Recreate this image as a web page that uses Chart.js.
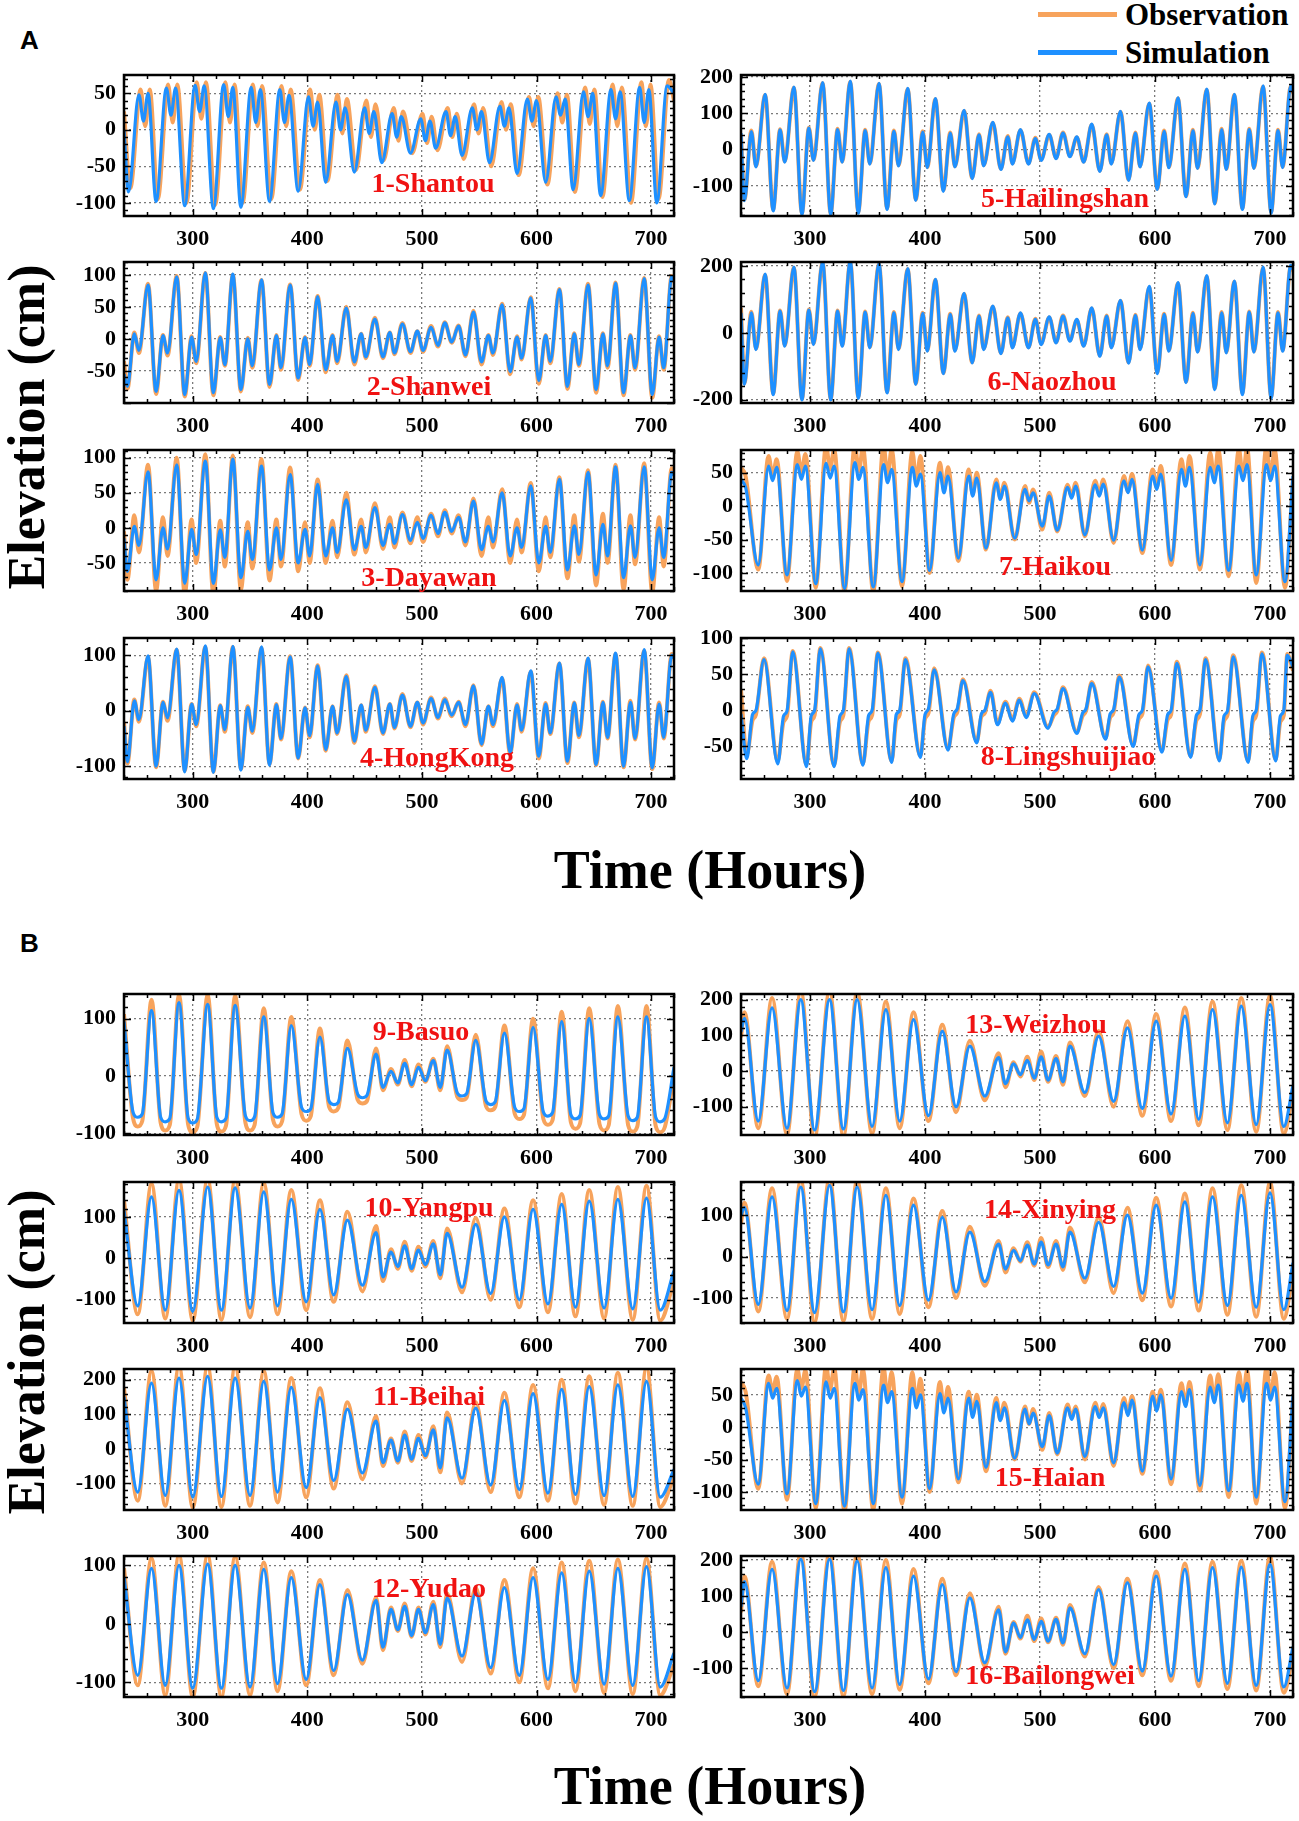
<!DOCTYPE html>
<html>
<head>
<meta charset="utf-8">
<script src="https://cdn.jsdelivr.net/npm/chart.js@4.4.1/dist/chart.umd.min.js"></script>
<style>
  body { margin: 0; width: 1299px; height: 1821px; background: #fff; position: relative; overflow: hidden; }
  canvas { position: absolute; }
  .txt { position: absolute; white-space: nowrap; font-family: 'Liberation Serif', serif; font-weight: bold; color: #000; }
  .st { position: absolute; transform: translate(-50%, -50%); white-space: nowrap; font-family: 'Liberation Serif', serif; font-weight: bold; font-size: 28px; color: #f01212; z-index: 5; }
  .panelTag { position: absolute; font-family: 'Liberation Sans', Arial, sans-serif; font-weight: bold; font-size: 26px; line-height: 26px; }
</style>
</head>
<body>

<div class="panelTag" style="left:20px;top:27px">A</div>
<div class="panelTag" style="left:20px;top:930px">B</div>

<div style="position:absolute;left:1038px;top:12px;width:79px;height:5px;background:#F7A35C"></div>
<div class="txt" style="left:1125px;top:-1px;font-size:31px;line-height:31px">Observation</div>
<div style="position:absolute;left:1038px;top:50px;width:79px;height:5px;background:#1E90FF"></div>
<div class="txt" style="left:1125px;top:37px;font-size:31px;line-height:31px">Simulation</div>

<div class="txt" style="left:27px;top:427px;font-size:52px;line-height:52px;transform:translate(-50%,-50%) rotate(-90deg)">Elevation (cm)</div>
<div class="txt" style="left:27px;top:1352px;font-size:52px;line-height:52px;transform:translate(-50%,-50%) rotate(-90deg)">Elevation (cm)</div>
<div class="txt" style="left:710px;top:870px;font-size:54px;line-height:54px;transform:translate(-50%,-50%)">Time (Hours)</div>
<div class="txt" style="left:710px;top:1786px;font-size:54px;line-height:54px;transform:translate(-50%,-50%)">Time (Hours)</div>

<script>
// hours of the turning points
const hoursShantou = [240,
  244,253,257,261, 268,277,281,285, 293,302,306,310, 318,327,331,335, 342,351,355,359,
  367,376,380,384, 392,401,405,409, 416,425,429,433, 441,450,454,458, 465,474,478,482,
  490,499,503,507, 512,521,525,529, 535,544,548,552, 559,568,572,576, 583,592,596,600,
  608,617,621,625, 632,641,645,649, 656,665,669,673, 681,690,694,698, 705,714,720];
// observed Shantou turning points come a little later than the simulated ones
const hoursShantouObs = [240,
  245.5,254.5,258.5,262.5, 269.5,278.5,282.5,286.5, 294.5,303.5,307.5,311.5, 319.5,328.5,332.5,336.5,
  343.5,352.5,356.5,360.5, 368.5,377.5,381.5,385.5, 393.5,402.5,406.5,410.5, 417.5,426.5,430.5,434.5,
  442.5,451.5,455.5,459.5, 466.5,475.5,479.5,483.5, 491.5,500.5,504.5,508.5, 513.5,522.5,526.5,530.5,
  536.5,545.5,549.5,553.5, 560.5,569.5,573.5,577.5, 584.5,593.5,597.5,601.5, 609.5,618.5,622.5,626.5,
  633.5,642.5,646.5,650.5, 657.5,666.5,670.5,674.5, 682.5,691.5,695.5,699.5, 706.5,715.5,720];
const hoursHK = [240,
  243,249,253,261, 268,274,278,286, 293,299,303,311, 318,324,328,335, 342,348,352,360,
  367,373,377,385, 392,398,402,409, 416,422,426,434, 441,447,451,459, 466,472,476,483,
  490,496,501,508, 514,520,526,532, 538,545,
  552,558,562,570, 577,583,587,595, 602,608,612,620, 627,633,637,645, 652,658,662,669,
  676,682,686,694, 701,707,711,718, 720];
const hoursHaikou = [240, 244,
  255,264,267.5,271, 280,289,292.5,296, 305,314,317.5,321, 330,339,342.5,346,
  355,364,367.5,371, 380,389,392.5,396, 404,413,416.5,420, 429,438,441.5,445,
  453,462,465.5,469, 478,487,490.5,494, 502,508,
  515,524,527.5,531, 539,548,551.5,555, 564,573,576.5,580, 589,598,601.5,605,
  614,623,626.5,630, 639,648,651.5,655, 664,673,676.5,680, 688,697,700.5,704, 713,720];
const hoursLingshui = [240,
  245,250,253,260, 272,277,280,285, 297,301,304,309, 321,326,329,334, 346,351,354,359,
  371,375,378,383, 396,400,403,408, 420,425,428,433, 445,449,452,457,
  463,470,476,482,488,495,
  507,512,515,520, 532,537,540,545, 557,561,564,569, 581,586,589,594, 606,611,614,619,
  631,636,639,644, 656,660,663,668, 681,685,688,693, 705,709,712,715, 720];
const hoursBasuo = [240,
  248,252,256,264, 272,276,280,288, 296,300,304,313, 321,325,329,337, 346,350,354,362,
  370,374,378,386, 395,399,403,411, 419,423,427,435, 444,448,452,460,
  466,473,479,485,491,497,503,510,516,522,
  531,535,539,547, 556,560,564,572, 581,585,589,597, 606,610,614,622, 630,634,638,646,
  655,659,663,671, 680,684,688,696, 704,708,712,720];
const hoursWest = [240,252,264,276,288,300,313,325,337,350,362,374,386,399,411,423,435,448,
  460,466,473,479,485,491,497,503,510,516,522,535,547,560,572,585,597,610,622,634,646,659,671,684,696,708,720];
const hoursEast = [240,243,255,267,280,292,304,317,329,341,354,366,378,390,403,415,427,439,
  452,464,470,477,483,489,495,501,507,514,520,526,539,551,564,576,589,601,614,626,638,650,663,675,688,700,712,720];

// elevations (cm)
const obsShantou = [25, -80,55,5,55, -95,62,10,62, -100,65,15,65, -103,65,10,62, -100,62,5,60,
  -95,60,5,55, -82,55,0,48, -70,48,-5,42, -55,40,-10,35, -42,30,-15,25, -32,22,-18,18,
  -28,30,-10,22, -40,35,-5,30, -50,38,0,35, -62,45,5,45, -75,50,10,48, -85,58,8,55,
  -92,62,5,58, -100,65,5,62, -95,68,40];
const simShantou = [0, -85,48,12,50, -98,57,20,57, -104,61,25,60, -108,62,18,58, -106,58,10,55,
  -98,55,10,47, -84,45,5,38, -72,38,0,30, -58,30,-5,25, -45,22,-10,18, -32,15,-15,12,
  -25,25,-8,18, -35,30,0,25, -45,32,5,30, -60,42,12,40, -72,45,20,42, -82,52,18,50,
  -90,55,15,52, -97,58,10,55, -100,60,50];

const obsShanwei = [-35, -78,10,-22,86, -86,6,-26,98, -90,4,-38,103, -88,3,-42,100, -82,2,-45,92,
  -75,6,-48,85, -64,3,-42,67, -52,6,-38,50, -40,8,-30,33, -30,10,-24,25, -22,12,-20,20,
  -12,26,-6,21, -27,44, -40,6,-25,55, -55,4,-32,65, -70,6,-38,78, -78,9,-42,86,
  -84,9,-45,88, -88,6,-48,95, -92,4,-48,98, 90];
const simShanwei = [-55, -74,8,-18,84, -82,5,-22,97, -87,3,-35,103, -84,2,-40,101, -79,0,-42,92,
  -71,5,-45,84, -61,2,-40,66, -48,5,-35,48, -36,8,-28,31, -28,10,-22,23, -20,12,-18,18,
  -10,25,-5,20, -25,42, -36,5,-22,53, -51,3,-30,64, -65,5,-35,77, -74,8,-40,84,
  -79,8,-42,87, -84,5,-45,94, -87,3,-45,97, 92];

const obsDayawan = [-5, -74,18,-35,90, -90,15,-40,100, -95,12,-50,105, -95,10,-55,103, -88,8,-58,98,
  -75,12,-55,86, -62,8,-50,69, -50,10,-42,50, -38,12,-35,35, -30,15,-28,22, -22,15,-20,20,
  -12,25,-8,18, -25,42, -40,15,-28,55, -50,12,-35,64, -62,15,-42,72, -72,18,-48,82,
  -82,20,-50,90, -88,18,-52,92, -92,15,-55,85, 80];
const simDayawan = [-15, -62,2,-25,80, -74,0,-30,90, -79,-2,-38,95, -79,-3,-42,98, -71,-5,-45,88,
  -60,0,-45,76, -50,-2,-40,62, -40,0,-35,40, -31,2,-28,29, -25,5,-22,19, -18,8,-15,18,
  -8,22,-5,15, -20,38, -31,2,-20,50, -40,0,-28,60, -50,2,-35,69, -60,3,-38,79,
  -67,5,-40,87, -71,3,-42,87, -74,0,-42,79, 75];

const obsHongKong = [-20, -95,20,-20,97, -102,16,-18,110, -108,12,-28,115, -110,10,-38,115, -105,8,-40,113,
  -96,12,-52,98, -86,6,-48,82, -72,8,-42,64, -58,10,-38,44, -42,12,-32,30, -30,15,-25,24,
  -14,22,-10,16, -28,46, -62,8,-28,58, -78,12,-38,70, -86,14,-42,85, -94,15,-48,93,
  -98,16,-50,102, -102,18,-52,108, -105,15,-50,102, 98];
const simHongKong = [-28, -92,18,-16,99, -100,15,-13,111, -110,12,-25,117, -111,9,-34,116, -107,6,-37,115,
  -98,11,-50,97, -85,5,-45,81, -70,8,-40,62, -55,10,-35,42, -40,12,-30,28, -28,15,-22,22,
  -12,20,-8,15, -25,45, -60,8,-25,60, -76,10,-35,72, -82,12,-40,86, -91,14,-45,95,
  -97,15,-48,104, -100,15,-50,110, -103,12,-48,100, 95];

const obsHailingshan = [40, -138,52,-45,150, -165,56,-32,170, -176,60,-28,182, -177,57,-33,186, -172,54,-38,180,
  -162,52,-43,166, -138,50,-48,138, -112,47,-46,106, -78,42,-43,73, -53,37,-38,53, -38,32,-28,40,
  -23,47,-18,33, -33,68, -58,42,-38,103, -83,47,-46,126, -108,52,-48,140, -128,54,-50,164,
  -148,57,-53,150, -162,57,-50,173, -172,54,-48,173, 155];
const simHailingshan = [45, -141,49,-48,152, -169,54,-35,172, -179,59,-30,184, -179,55,-35,188, -175,52,-40,182,
  -165,50,-45,168, -140,48,-50,140, -115,45,-48,108, -80,40,-45,75, -55,35,-40,55, -40,30,-30,42,
  -25,45,-20,35, -35,70, -60,40,-40,105, -85,45,-48,128, -110,50,-50,142, -130,52,-52,166,
  -150,55,-55,152, -165,55,-52,175, -175,52,-50,175, 160];

const obsNaozhou = [75, -150,63,-47,173, -182,67,-37,195, -198,70,-32,210, -199,67,-37,212, -193,64,-42,205,
  -177,62,-47,190, -152,60,-52,158, -120,57,-52,116, -88,52,-47,78, -60,47,-42,58, -43,42,-32,46,
  -28,52,-22,38, -38,73, -68,52,-42,95, -88,54,-47,136, -118,57,-52,148, -146,60,-55,168,
  -166,62,-57,153, -180,64,-55,193, -192,62,-52,198, 185];
const simNaozhou = [60, -154,60,-50,176, -185,65,-40,197, -201,68,-35,213, -201,65,-40,215, -196,62,-45,207,
  -180,60,-50,192, -154,58,-55,160, -122,55,-55,118, -90,50,-50,80, -62,45,-45,60, -45,40,-35,48,
  -30,50,-25,40, -40,75, -70,50,-45,97, -91,52,-50,139, -122,55,-55,150, -149,58,-58,171,
  -170,60,-60,155, -185,62,-58,197, -196,60,-55,202, 190];

const obsHaikou = [58, 45, -95,75,45,70, -112,82,50,78, -122,90,55,85, -128,92,52,88, -128,90,45,85,
  -120,82,38,75, -100,65,25,58, -82,55,18,50, -65,40,12,35, -50,30,5,25, -35,20,
  -38,32,15,35, -45,38,18,40, -55,45,22,48, -70,55,28,60, -88,70,35,75, -95,80,40,85,
  -105,85,42,88, -115,90,40,85, -122,40];
const simHaikou = [40, 28, -88,60,38,58, -103,62,40,60, -116,64,42,60, -123,65,40,58, -121,62,35,55,
  -113,58,30,48, -96,50,20,45, -78,45,15,42, -63,35,10,30, -48,25,8,20, -30,15,
  -36,28,12,30, -43,32,15,33, -51,38,20,40, -66,45,25,48, -81,55,30,58, -88,58,35,60,
  -96,60,38,62, -103,62,38,60, -113,45];

const obsHaian = [70, 55, -95,80,55,78, -112,90,60,88, -125,95,58,92, -130,95,52,90, -128,92,45,85,
  -118,85,38,75, -100,70,28,62, -85,55,20,50, -68,45,12,38, -50,32,5,28, -35,22,
  -42,35,15,32, -50,38,18,36, -60,45,22,48, -72,55,28,58, -88,68,35,70, -98,80,42,82,
  -108,85,45,88, -118,92,45,85, -125,45];
const simHaian = [45, 30, -88,68,45,60, -103,72,48,62, -118,70,45,60, -122,68,42,58, -118,65,38,55,
  -108,60,30,50, -95,52,22,45, -80,45,15,40, -62,38,10,30, -48,28,5,22, -30,18,
  -40,30,12,28, -45,32,15,30, -55,38,18,42, -68,48,25,50, -80,55,32,58, -90,62,38,65,
  -98,65,40,68, -108,68,42,62, -115,50];

const obsLingshui = [28,
  -62,-14,-6,72, -70,-16,-8,82, -75,-16,-7,86, -76,-16,-7,86, -74,-15,-7,80,
  -70,-14,-6,72, -63,-12,-4,58, -53,-10,-3,43, -43,-9,-4,27,
  -18,12,-13,16,-8,25,
  -23,-7,-1,32, -30,-8,-1,39, -38,-10,-3,48, -48,-12,-5,62, -56,-13,-6,67,
  -63,-14,-6,72, -68,-15,-7,76, -70,-16,-7,80, -68,-16,-7,78, 55];
const simLingshui = [-5,
  -67,-6,0,70, -74,-8,-1,81, -78,-8,0,85, -78,-8,0,85, -76,-7,0,79,
  -72,-6,0,70, -65,-6,2,56, -55,-5,2,41, -45,-5,0,25,
  -20,10,-15,14,-10,23,
  -25,-3,2,30, -32,-4,2,37, -40,-5,1,46, -50,-6,0,60, -58,-6,0,65,
  -65,-7,0,70, -70,-8,-1,74, -72,-8,0,78, -70,-8,0,76, 60];

const obsBasuo = [108,
  -75,-88,-78,133, -82,-95,-85,142, -85,-98,-88,142, -84,-97,-87,140, -82,-95,-85,118,
  -76,-88,-79,103, -67,-78,-70,83, -54,-62,-56,62, -42,-48,-44,48,
  -25,12,-15,28,-18,20,-10,30,-25,52,
  -37,-42,-38,72, -53,-60,-54,88, -66,-75,-68,100, -75,-85,-77,112, -81,-92,-83,118,
  -84,-95,-86,122, -86,-97,-88,122, -87,-98,-89,0];
const simBasuo = [95,
  -64,-72,-66,114, -72,-80,-74,128, -74,-82,-75,125, -72,-80,-74,123, -70,-78,-71,103,
  -64,-72,-66,88, -55,-62,-57,68, -44,-50,-46,48, -32,-38,-34,38,
  -20,8,-12,22,-15,15,-8,27,-20,45,
  -30,-35,-31,62, -44,-50,-45,75, -55,-62,-57,85, -63,-70,-64,95, -68,-75,-69,100,
  -68,-75,-70,103, -70,-78,-72,103, -72,-80,-74,15];

const obsYangpu = [140,-135,180,-145,190,-150,192,-148,190,-142,182,-135,165,-125,140,-105,112,-80,78,-55,
  22,-25,40,-30,28,-20,42,-48,72,-82,98,-100,120,-118,140,-130,155,-140,165,-145,172,-148,175,-150,-55];
const simYangpu = [115,-115,148,-125,164,-128,172,-125,170,-120,160,-115,142,-105,118,-88,92,-65,62,-45,
  15,-20,30,-25,20,-15,35,-40,60,-70,82,-85,100,-100,118,-110,130,-118,138,-120,142,-122,145,-125,-30];

const obsBeihai = [175,-150,225,-165,240,-170,240,-168,238,-165,225,-155,205,-140,175,-115,135,-88,95,-50,
  30,-40,50,-35,40,-25,65,-68,105,-100,135,-125,162,-140,185,-150,200,-158,210,-162,220,-165,235,-168,-80];
const simBeihai = [150,-125,190,-135,205,-140,210,-138,205,-135,195,-125,178,-112,148,-92,115,-70,80,-40,
  25,-35,40,-30,30,-20,55,-55,90,-85,118,-105,140,-118,160,-128,172,-132,180,-135,185,-138,195,-140,-60];

const obsYudao = [95,-105,112,-122,118,-125,118,-125,115,-122,105,-115,90,-105,75,-88,58,-68,45,-45,
  28,-12,35,-22,28,-18,38,-40,52,-65,62,-85,75,-100,95,-110,105,-115,108,-118,110,-120,112,-122,-70];
const simYudao = [80,-88,95,-105,100,-110,102,-110,100,-108,93,-102,79,-95,67,-80,50,-62,40,-40,
  25,-10,30,-20,25,-15,33,-35,44,-55,53,-75,62,-88,79,-95,87,-100,90,-103,95,-105,98,-108,-50];

const obsWeizhou = [95,165,-160,205,-178,225,-185,225,-182,222,-175,195,-160,165,-140,130,-115,85,-82,50,
  -45,25,-15,40,-25,55,-30,42,-38,80,-70,112,-100,140,-125,160,-140,178,-152,195,-165,205,-170,212,-175,-60];
const simWeizhou = [110,148,-140,177,-160,200,-165,200,-162,200,-155,172,-140,144,-125,112,-100,70,-70,38,
  -35,20,-10,30,-20,40,-25,35,-30,70,-60,98,-85,121,-105,140,-120,154,-135,172,-145,182,-150,186,-155,-40];

const obsXinying = [80,130,-132,165,-150,185,-158,190,-155,185,-150,165,-138,140,-122,110,-100,72,-70,38,
  -38,20,-12,35,-22,45,-25,38,-32,70,-62,95,-88,118,-105,142,-120,152,-130,165,-140,172,-145,180,-150,-35];
const simXinying = [100,118,-115,144,-130,168,-135,172,-133,168,-128,148,-118,124,-105,95,-85,59,-60,30,
  -30,15,-10,28,-18,35,-20,30,-25,59,-52,83,-72,100,-88,124,-100,132,-110,144,-118,148,-122,154,-128,-15];

const obsBailongwei = [55,155,-150,195,-172,222,-180,222,-178,218,-172,200,-160,175,-142,148,-120,108,-95,70,
  -60,28,-18,45,-25,38,-28,40,-35,75,-68,125,-100,148,-120,168,-135,190,-150,195,-158,198,-162,210,-168,-60];
const simBailongwei = [70,140,-135,174,-155,202,-165,202,-162,197,-155,179,-145,155,-130,132,-110,95,-85,62,
  -55,25,-15,34,-20,30,-25,35,-30,67,-60,118,-90,137,-108,155,-122,174,-135,179,-142,180,-148,188,-152,-40];

// axis ticks
const xTicks = [300, 400, 500, 600, 700];
const yTicks50 = [-100, -50, 0, 50];
const yTicksUp = [-50, 0, 50, 100];
const yTicks100 = [-100, 0, 100];
const yTicks200 = [-100, 0, 100, 200];
const yTicksWide = [-200, 0, 200];

// layout of the 16 boxes (page pixels)
const boxLeft = [124, 741];
const boxWidth = [550, 552];
const rowTop = [75, 262, 450, 638, 994, 1182, 1369, 1556];
const boxHeight = 141;
const padTop = 24, yAxisW = 70, xAxisH = 36;

const panels = [
  {label: '1-Shantou', col: 0, row: 0, h: hoursShantou, hObs: hoursShantouObs, obs: obsShantou, sim: simShantou, yr: [-118, 75], yt: yTicks50, lx: 433, ly: 183},
  {label: '2-Shanwei', col: 0, row: 1, h: hoursHK, obs: obsShanwei, sim: simShanwei, yr: [-100, 120], yt: yTicksUp, lx: 429, ly: 386},
  {label: '3-Dayawan', col: 0, row: 2, h: hoursHK, obs: obsDayawan, sim: simDayawan, yr: [-90, 111], yt: yTicksUp, lx: 429, ly: 577},
  {label: '4-HongKong', col: 0, row: 3, h: hoursHK, obs: obsHongKong, sim: simHongKong, yr: [-123, 131], yt: yTicks100, lx: 437, ly: 757},
  {label: '5-Hailingshan', col: 1, row: 0, h: hoursHK, obs: obsHailingshan, sim: simHailingshan, yr: [-183, 205], yt: yTicks200, lx: 1065, ly: 198},
  {label: '6-Naozhou', col: 1, row: 1, h: hoursHK, obs: obsNaozhou, sim: simNaozhou, yr: [-210, 212], yt: yTicksWide, lx: 1052, ly: 381},
  {label: '7-Haikou', col: 1, row: 2, h: hoursHaikou, obs: obsHaikou, sim: simHaikou, yr: [-127, 84], yt: yTicks50, lx: 1055, ly: 566},
  {label: '8-Lingshuijiao', col: 1, row: 3, h: hoursLingshui, obs: obsLingshui, sim: simLingshui, yr: [-95, 100], yt: yTicksUp, lx: 1068, ly: 756},
  {label: '9-Basuo', col: 0, row: 4, h: hoursBasuo, obs: obsBasuo, sim: simBasuo, yr: [-103, 143], yt: yTicks100, lx: 421, ly: 1031},
  {label: '10-Yangpu', col: 0, row: 5, h: hoursWest, obs: obsYangpu, sim: simYangpu, yr: [-156, 184], yt: yTicks100, lx: 429, ly: 1207},
  {label: '11-Beihai', col: 0, row: 6, h: hoursWest, obs: obsBeihai, sim: simBeihai, yr: [-177, 231], yt: yTicks200, lx: 429, ly: 1396},
  {label: '12-Yudao', col: 0, row: 7, h: hoursWest, obs: obsYudao, sim: simYudao, yr: [-125, 116], yt: yTicks100, lx: 429, ly: 1588},
  {label: '13-Weizhou', col: 1, row: 4, h: hoursEast, obs: obsWeizhou, sim: simWeizhou, yr: [-179, 216], yt: yTicks200, lx: 1036, ly: 1024},
  {label: '14-Xinying', col: 1, row: 5, h: hoursEast, obs: obsXinying, sim: simXinying, yr: [-160, 180], yt: yTicks100, lx: 1050, ly: 1209},
  {label: '15-Haian', col: 1, row: 6, h: hoursHaikou, obs: obsHaian, sim: simHaian, yr: [-128, 90], yt: yTicks50, lx: 1050, ly: 1477},
  {label: '16-Bailongwei', col: 1, row: 7, h: hoursEast, obs: obsBailongwei, sim: simBailongwei, yr: [-180, 211], yt: yTicks200, lx: 1050, ly: 1675}
];

// black frame with inward major / minor ticks on all four sides
const framePlugin = {
  id: 'frame',
  afterDraw(chart) {
    const {ctx, chartArea: a, scales: {x, y}} = chart;
    const yt = chart.options.plugins.frame.yt;
    const step = (yt[1] - yt[0]) / 5;
    ctx.save();
    ctx.strokeStyle = '#000';
    ctx.lineWidth = 1.5;
    ctx.beginPath();
    for (let v = 240; v <= 720; v += 20) {
      const px = Math.round(x.getPixelForValue(v)) + 0.5;
      const len = v % 100 === 0 ? 7 : 4;
      ctx.moveTo(px, a.bottom); ctx.lineTo(px, a.bottom - len);
      ctx.moveTo(px, a.top); ctx.lineTo(px, a.top + len);
    }
    for (let k = Math.ceil(y.min / step); k * step <= y.max; k++) {
      const py = Math.round(y.getPixelForValue(k * step)) + 0.5;
      const len = k % 5 === 0 ? 7 : 4;
      ctx.moveTo(a.left, py); ctx.lineTo(a.left + len, py);
      ctx.moveTo(a.right, py); ctx.lineTo(a.right - len, py);
    }
    ctx.stroke();
    ctx.lineWidth = 2.5;
    ctx.strokeRect(a.left, a.top, a.right - a.left, a.bottom - a.top);
    ctx.restore();
  }
};

const tickFont = {family: 'Liberation Serif', weight: 'bold', size: 22};

panels.forEach(p => {
  const padRight = p.col === 0 ? 14 : 8;
  const w = yAxisW + boxWidth[p.col] + padRight;
  const hgt = padTop + boxHeight + xAxisH;
  const cv = document.createElement('canvas');
  cv.width = w; cv.height = hgt;
  cv.style.left = (boxLeft[p.col] - yAxisW) + 'px';
  cv.style.top = (rowTop[p.row] - padTop) + 'px';
  cv.style.width = w + 'px'; cv.style.height = hgt + 'px';
  document.body.appendChild(cv);

  const pts = (hours, vals) => hours.map((t, i) => ({x: t, y: vals[i]}));

  new Chart(cv, {
    type: 'line',
    data: {
      datasets: [
        {label: 'Simulation', data: pts(p.h, p.sim), borderColor: '#1E90FF', borderWidth: 3.2},
        {label: 'Observation', data: pts(p.hObs || p.h, p.obs), borderColor: '#F7A35C', borderWidth: 4}
      ]
    },
    options: {
      responsive: false,
      animation: false,
      devicePixelRatio: 1,
      events: [],
      layout: {padding: {left: 0, top: padTop, right: padRight, bottom: 0}},
      datasets: {line: {pointRadius: 0, cubicInterpolationMode: 'monotone', clip: 0, fill: false}},
      plugins: {legend: {display: false}, tooltip: {enabled: false}, frame: {yt: p.yt}},
      scales: {
        x: {
          type: 'linear', min: 240, max: 720,
          afterBuildTicks: s => { s.ticks = xTicks.map(v => ({value: v})); },
          afterFit: s => { s.height = xAxisH; },
          grid: {color: '#7a7a7a', lineWidth: 1.3, drawTicks: false},
          border: {display: false, dash: [2, 3]},
          ticks: {font: tickFont, color: '#000', padding: 10, maxRotation: 0}
        },
        y: {
          type: 'linear', min: p.yr[0], max: p.yr[1],
          afterBuildTicks: s => { s.ticks = p.yt.map(v => ({value: v})); },
          afterFit: s => { s.width = yAxisW; },
          grid: {color: '#7a7a7a', lineWidth: 1.3, drawTicks: false},
          border: {display: false, dash: [2, 3]},
          ticks: {font: tickFont, color: '#000', padding: 8}
        }
      }
    },
    plugins: [framePlugin]
  });

  const lab = document.createElement('div');
  lab.className = 'st';
  lab.style.left = p.lx + 'px';
  lab.style.top = p.ly + 'px';
  lab.textContent = p.label;
  document.body.appendChild(lab);
});
</script>
</body>
</html>
